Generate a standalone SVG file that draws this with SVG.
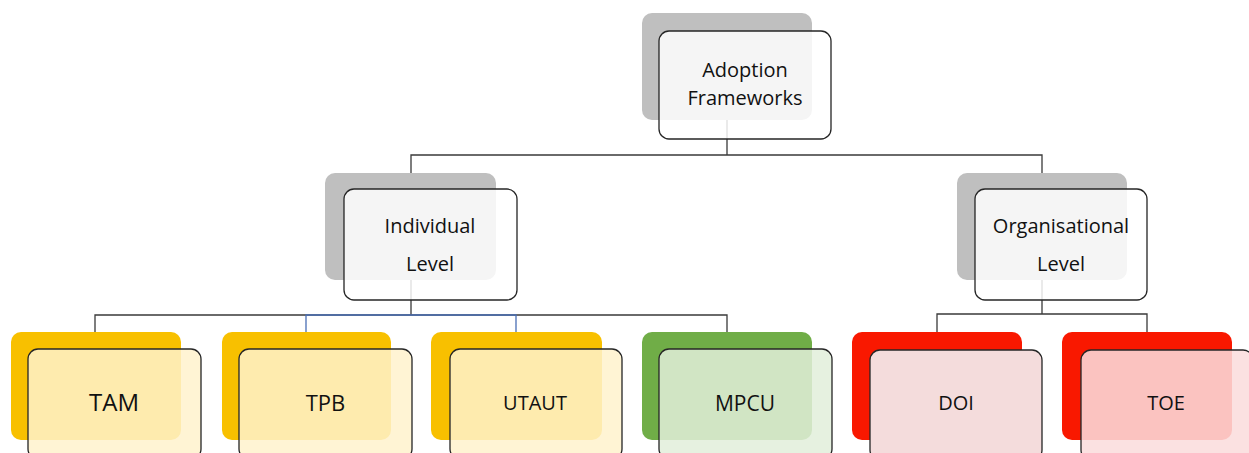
<svg xmlns="http://www.w3.org/2000/svg" width="1249" height="453" viewBox="0 0 1249 453">
<style>
.c{fill:none;stroke:#3a3a3a;stroke-width:1.3}
.cb{fill:none;stroke:#4a6fb5;stroke-width:1.3}
.sh{stroke:none}
.fr{stroke:#262626;stroke-width:1.3}
.t{font-family:"Open Sans","Liberation Sans",sans-serif;fill:#111;text-anchor:middle}
.gs{fill:#bfbfbf}.gf{fill:#ffffff;fill-opacity:0.84}
.ys{fill:#f8c000}.yf{fill:#fff2cc;fill-opacity:0.85}
.ns{fill:#70ad47}.nf{fill:#e2efda;fill-opacity:0.85}
.rs{fill:#f91800}
</style>
<rect width="1249" height="453" fill="#ffffff"/>
<g id="connectors">
<path class="c" d="M727,120 V155 M411,173 V155 H1042 V173"/>
<path class="c" d="M411,280 V315 M95,332 V315 H727 V332"/>
<path class="cb" d="M306,332 V315 H516 V332"/>
<path class="c" d="M1042,280 V314 M937,332 V314 H1147 V332"/>
</g>
<g id="adoption">
<rect class="sh gs" x="642" y="13" width="170" height="107" rx="10"/>
<rect class="fr gf" x="659" y="31" width="172" height="108" rx="10"/>
<text class="t" font-size="20" x="745" y="77">Adoption</text>
<text class="t" font-size="20" x="745" y="105">Frameworks</text>
</g>
<g id="individual">
<rect class="sh gs" x="325" y="173" width="171" height="107" rx="10"/>
<rect class="fr gf" x="344" y="189" width="173" height="111" rx="10"/>
<text class="t" font-size="20" x="430" y="233">Individual</text>
<text class="t" font-size="20" x="430" y="271">Level</text>
</g>
<g id="organisational">
<rect class="sh gs" x="957" y="173" width="170" height="107" rx="10"/>
<rect class="fr gf" x="975" y="189" width="172" height="111" rx="10"/>
<text class="t" font-size="20" x="1061" y="233">Organisational</text>
<text class="t" font-size="20" x="1061" y="271">Level</text>
</g>
<g id="tam">
<rect class="sh ys" x="11" y="332" width="170" height="108" rx="10"/>
<rect class="fr yf" x="28" y="349" width="173" height="110" rx="10"/>
<text class="t" font-size="24" x="114" y="411">TAM</text>
</g>
<g id="tpb">
<rect class="sh ys" x="222" y="332" width="169" height="108" rx="10"/>
<rect class="fr yf" x="239" y="349" width="173" height="110" rx="10"/>
<text class="t" font-size="22" x="325.5" y="411">TPB</text>
</g>
<g id="utaut">
<rect class="sh ys" x="431" y="332" width="171" height="108" rx="10"/>
<rect class="fr yf" x="450" y="349" width="172" height="110" rx="10"/>
<text class="t" font-size="20" x="535" y="410">UTAUT</text>
</g>
<g id="mpcu">
<rect class="sh ns" x="642" y="332" width="170" height="108" rx="10"/>
<rect class="fr nf" x="659" y="349" width="173" height="110" rx="10"/>
<text class="t" font-size="21" x="745" y="411">MPCU</text>
</g>
<g id="doi">
<rect class="sh rs" x="852" y="332" width="170" height="108" rx="10"/>
<rect class="fr" fill="#f4dcdc" x="870" y="350" width="172" height="110" rx="10"/>
<text class="t" font-size="20" x="956" y="410">DOI</text>
</g>
<g id="toe">
<rect class="sh rs" x="1062" y="332" width="170" height="108" rx="10"/>
<rect class="fr" fill="#fadddd" fill-opacity="0.87" x="1081" y="350" width="172" height="110" rx="10"/>
<text class="t" font-size="20" x="1166" y="410">TOE</text>
</g>
</svg>
